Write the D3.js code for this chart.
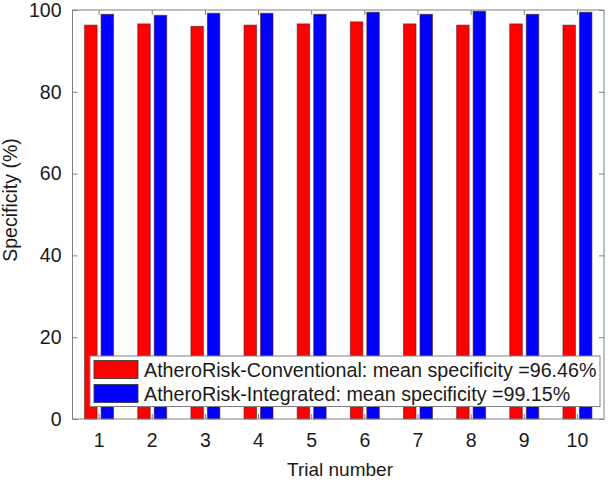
<!DOCTYPE html>
<html><head><meta charset="utf-8">
<script src="https://cdn.jsdelivr.net/npm/d3@7"></script>
<style>body{margin:0;background:#fff}svg{display:block}text{font-family:"Liberation Sans",Arial,sans-serif}</style>
</head><body><svg id="c" width="608" height="480"></svg>
<script>
const trials = ["1","2","3","4","5","6","7","8","9","10"];
const conventional = [96.3,96.6,96.0,96.3,96.6,97.1,96.6,96.3,96.6,96.3];
const integrated = [98.95,98.7,99.2,99.2,98.95,99.45,98.95,99.7,98.95,99.45];
const seriesNames = ["AtheroRisk-Conventional: mean specificity =96.46%","AtheroRisk-Integrated: mean specificity =99.15%"];
const seriesColors = ["#ff0000","#0000ff"];
const yTicks = [0,20,40,60,80,100];

const svg = d3.select("#c");
const L=72.5, R=604, T=10, B=419;
const x = d3.scaleBand().domain(trials).range([L,R]).padding(0);
const y = d3.scaleLinear().domain([0,100]).range([B,T]);
const bw = x.bandwidth();
const barW = bw*0.235, off = bw*0.155;
const txt = "#1a1a1a";

const series=[conventional,integrated];
series.forEach((vals,si)=>{
  svg.append("g").selectAll("rect").data(vals).join("rect")
    .attr("x",(d,i)=>x(trials[i])+bw/2+(si===0?-off:off)-barW/2)
    .attr("y",d=>y(d)).attr("width",barW).attr("height",d=>B-y(d))
    .attr("fill",seriesColors[si]).attr("stroke","#5a1a1a").attr("stroke-opacity",0.6).attr("stroke-width",1);
});

// frame
const frame="#808080";
svg.append("rect").attr("x",L).attr("y",T).attr("width",R-L).attr("height",B-T).attr("fill","none").attr("stroke",frame).attr("stroke-width",1);
const yl = d3.axisLeft(y).tickValues(yTicks).tickSize(-5).tickPadding(11);
const gy = svg.append("g").attr("transform",`translate(${L},0)`).call(yl);
gy.select(".domain").remove();
gy.selectAll("line").attr("stroke",frame);
gy.selectAll("text").attr("font-size",19.5).attr("fill",txt);
const yr = d3.axisRight(y).tickValues(yTicks).tickSize(-5).tickFormat("");
const gyr = svg.append("g").attr("transform",`translate(${R},0)`).call(yr);
gyr.select(".domain").remove(); gyr.selectAll("line").attr("stroke",frame);
const xb = d3.axisBottom(x).tickSize(-5).tickPadding(14);
const gx = svg.append("g").attr("transform",`translate(0,${B})`).call(xb);
gx.select(".domain").remove(); gx.selectAll("line").attr("stroke",frame);
gx.selectAll("text").attr("font-size",19.5).attr("fill",txt);
const xt = d3.axisTop(x).tickSize(-5).tickFormat("");
const gxt = svg.append("g").attr("transform",`translate(0,${T})`).call(xt);
gxt.select(".domain").remove(); gxt.selectAll("line").attr("stroke",frame);

// axis labels
svg.append("text").attr("x",340).attr("y",476).attr("text-anchor","middle").attr("font-size",19).attr("fill",txt).text("Trial number");
svg.append("text").attr("transform",`translate(17,200) rotate(-90)`).attr("text-anchor","middle").attr("font-size",19.5).attr("fill",txt).text("Specificity (%)");

// legend
const lg = svg.append("g");
lg.append("rect").attr("x",90).attr("y",356).attr("width",510).attr("height",50.5).attr("fill","#fff").attr("stroke",frame);
seriesNames.forEach((n,i)=>{
  lg.append("rect").attr("x",94).attr("y",360.5+i*24).attr("width",44).attr("height",18).attr("fill",seriesColors[i]).attr("stroke","#333").attr("stroke-width",0.8);
  lg.append("text").attr("x",144).attr("y",377+i*24).attr("font-size",19.7).attr("fill",txt).text(n);
});
</script></body></html>
